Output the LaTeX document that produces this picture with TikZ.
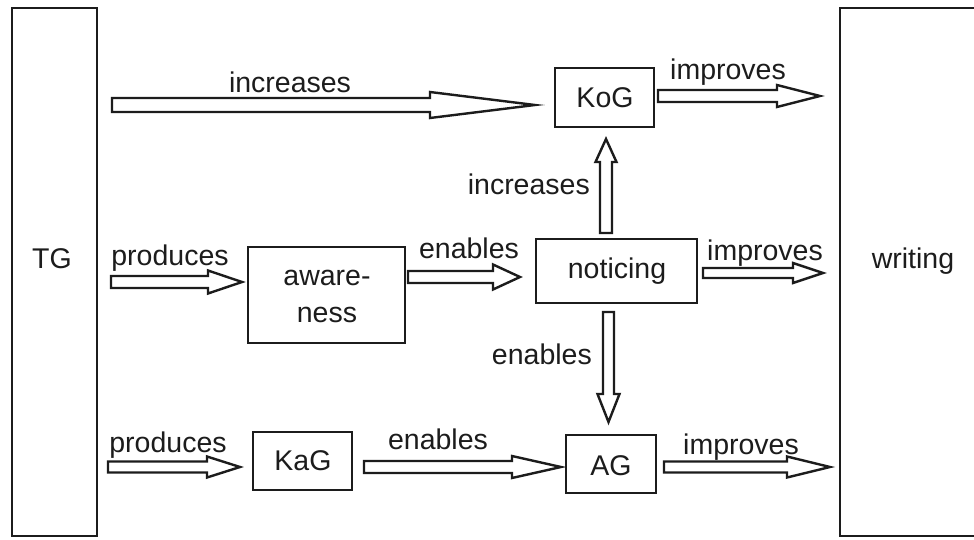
\documentclass[tikz,border=0pt]{standalone}
\usepackage{fontspec}
\setmainfont{Liberation Sans}
\usetikzlibrary{calc}
\definecolor{ink}{RGB}{28,28,28}
\tikzset{
  box/.style={draw=ink, line width=2.6pt, inner sep=0pt, rectangle},
  barrow/.style={draw=ink, line width=2.4pt, line join=miter, fill=white},
  lbl/.style={inner sep=0pt, anchor=base, text=ink, font=\fontsize{28.5}{32}\selectfont},
}
\newcommand\blockarrow[5]{%
  \coordinate (ba-h) at ($(#2)!#3!(#1)$);
  \draw[barrow] ($(#1)!#4!90:(#2)$) -- ($(ba-h)!#4!90:(#2)$) -- ($(ba-h)!#5!90:(#2)$) -- (#2)
    -- ($(ba-h)!#5!-90:(#2)$) -- ($(ba-h)!#4!-90:(#2)$) -- ($(#1)!#4!-90:(#2)$) -- cycle;}
\begin{document}
\begin{tikzpicture}[x=1pt, y=-1pt]
\useasboundingbox (0,0) rectangle (974,540);
\clip (0,0) rectangle (974,540);
\fill[white] (0,0) rectangle (974,540);

% boxes
\node[box, minimum width=85, minimum height=528] (tg) at (54.5,272) {};
\node[lbl] (tgl) at (52,268) {TG};
\node[box, minimum width=170, minimum height=528] (wr) at (925,272) {};
\node[lbl] (wrl) at (913,268) {writing};
\node[box, minimum width=99, minimum height=59] (kog) at (604.5,97.5) {};
\node[lbl] (kogl) at (605,108) {KoG};
\node[box, minimum width=161, minimum height=64] (not) at (616.5,271) {};
\node[lbl] (notl) at (617,278) {noticing};
\node[box, minimum width=157, minimum height=96] (aw) at (326.5,295) {};
\node[lbl] (awl1) at (327,285) {aware-};
\node[lbl] (awl2) at (327,322) {ness};
\node[box, minimum width=99, minimum height=58] (kag) at (302.5,461) {};
\node[lbl] (kagl) at (303,470) {KaG};
\node[box, minimum width=90, minimum height=58] (ag) at (611,464) {};
\node[lbl] (agl) at (611,475) {AG};

% arrow end points
\coordinate (a1t) at (112,105);  \coordinate (a1h) at (535,105);
\coordinate (a2t) at (658,96);   \coordinate (a2h) at (820,96);
\coordinate (a3t) at (606,233);  \coordinate (a3h) at (606,139);
\coordinate (a4t) at (111,282);  \coordinate (a4h) at (242,282);
\coordinate (a5t) at (408,277);  \coordinate (a5h) at (520,277);
\coordinate (a6t) at (703,273);  \coordinate (a6h) at (823,273);
\coordinate (a7t) at (608.5,312);\coordinate (a7h) at (608.5,422);
\coordinate (a8t) at (108,467);  \coordinate (a8h) at (240,467);
\coordinate (a9t) at (364,467);  \coordinate (a9h) at (561,467);
\coordinate (a10t) at (664,467); \coordinate (a10h) at (830,467);

\blockarrow{a1t}{a1h}{105pt}{7pt}{13pt}
\blockarrow{a2t}{a2h}{43pt}{6pt}{11pt}
\blockarrow{a3t}{a3h}{23pt}{6pt}{10.5pt}
\blockarrow{a4t}{a4h}{34pt}{6pt}{11.5pt}
\blockarrow{a5t}{a5h}{27pt}{6pt}{12.5pt}
\blockarrow{a6t}{a6h}{30pt}{5pt}{10pt}
\blockarrow{a7t}{a7h}{28pt}{5.5pt}{11pt}
\blockarrow{a8t}{a8h}{33pt}{5.5pt}{10.5pt}
\blockarrow{a9t}{a9h}{49pt}{6pt}{11pt}
\blockarrow{a10t}{a10h}{43pt}{5.5pt}{10.5pt}

% labels
\node[lbl] (l1) at (290,93) {increases};
\node[lbl] (l2) at (728,80) {improves};
\node[lbl, anchor=base east] (l3) at (590,194) {increases};
\node[lbl] (l4) at (170,265) {produces};
\node[lbl] (l5) at (469,258) {enables};
\node[lbl] (l6) at (765,260) {improves};
\node[lbl, anchor=base east] (l7) at (592,364) {enables};
\node[lbl] (l8) at (168,452) {produces};
\node[lbl] (l9) at (438,449) {enables};
\node[lbl] (l10) at (741,454) {improves};
\end{tikzpicture}
\end{document}
